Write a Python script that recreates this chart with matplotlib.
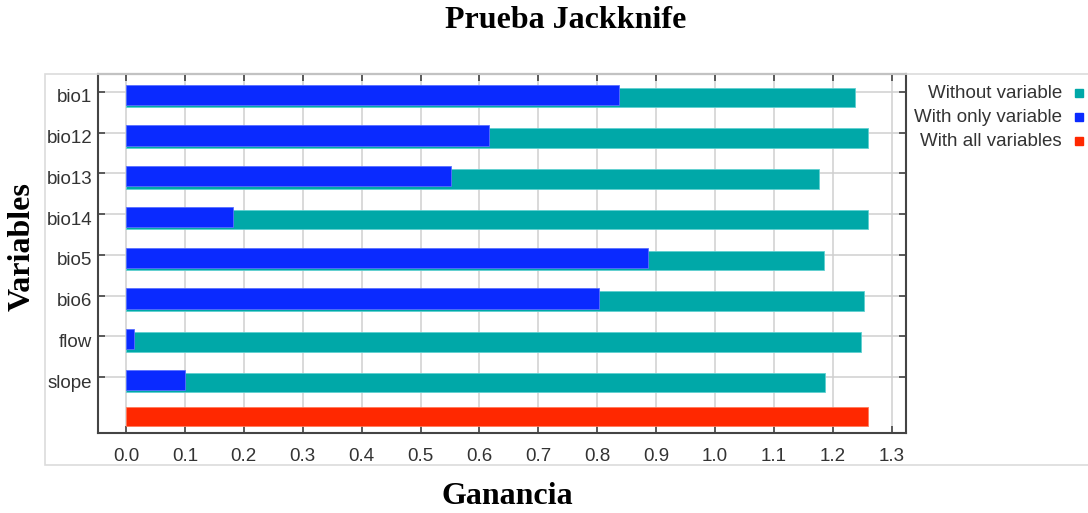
import matplotlib
matplotlib.use("Agg")
import matplotlib.pyplot as plt
import matplotlib.transforms as mtransforms
from matplotlib.patches import Rectangle

# Jackknife data
variables = ['bio1', 'bio12', 'bio13', 'bio14', 'bio5', 'bio6', 'flow', 'slope']
without_var = [1.237, 1.260, 1.176, 1.260, 1.184, 1.252, 1.247, 1.186]
only_var = [0.836, 0.616, 0.552, 0.181, 0.886, 0.803, 0.013, 0.101]
all_vars = 1.260
xticks = [0.0, 0.1, 0.2, 0.3, 0.4, 0.5, 0.6, 0.7, 0.8, 0.9, 1.0, 1.1, 1.2, 1.3]

legend_labels = ['Without variable', 'With only variable', 'With all variables']
teal = '#00A8A8'
blue = '#0A2AFF'
red = '#FF2800'
legend_colors = [teal, blue, red]

W, H = 1088, 513
fig = plt.figure(figsize=(W / 100, H / 100), dpi=100)

# light outer frame around the chart panel
fig.patches.append(Rectangle((45 / W, 1 - 465 / H), (W - 44) / W, (465 - 74) / H,
                             transform=fig.transFigure, fill=False,
                             edgecolor='#dcdcdc', linewidth=1.2))

ax = fig.add_axes([98 / W, 1 - 433 / H, (906 - 98) / W, (433 - 74) / H])

ypos = list(range(len(variables)))
ax.barh([y + 0.135 for y in ypos], without_var, height=0.48, color=teal,
        edgecolor='#5fd0d0', linewidth=0.6, zorder=3)
ax.barh([y + 0.07 for y in ypos], only_var, height=0.5, color=blue,
        edgecolor='#5a70ff', linewidth=0.6, zorder=4)
ax.barh(len(variables) - 0.04, all_vars, height=0.47, color=red,
        edgecolor='#ff7a5a', linewidth=0.6, zorder=3)

ax.set_xlim(-0.0475, 1.324)
ax.set_ylim(8.37, -0.44)
ax.set_xticks(xticks)
ax.set_xticklabels([f'{t:.1f}' for t in xticks])
ax.set_yticks(ypos)
ax.set_yticklabels(variables)

ax.grid(True, color='#cfcfcf', linewidth=1.1, zorder=0)
ax.set_axisbelow(True)
ax.tick_params(axis='both', direction='in', length=5, width=1.2, color='#444444',
               top=True, right=True, labelsize=13.5, labelcolor='#333333')
ax.tick_params(axis='x', pad=11)
ax.tick_params(axis='y', pad=4)
# y labels sit a few pixels below their ticks in the original
shift = mtransforms.ScaledTranslation(0, -4 / 100, fig.dpi_scale_trans)
for lab in ax.get_yticklabels():
    lab.set_transform(lab.get_transform() + shift)
for lab in ax.get_xticklabels() + ax.get_yticklabels():
    lab.set_family('Liberation Sans')
for s in ax.spines.values():
    s.set_color('#444444')
    s.set_linewidth(1.5)

# legend on the right: text right aligned, coloured square after it
for i, (lab, col) in enumerate(zip(legend_labels, legend_colors)):
    yc = 93 + i * 24
    fig.text(1062 / W, 1 - yc / H, lab, ha='right', va='center',
             fontsize=13.5, family='Liberation Sans', color='#333333')
    fig.patches.append(Rectangle((1075 / W, 1 - (yc + 4) / H), 8 / W, 8 / H,
                                 transform=fig.transFigure, color=col))

serif = 'Liberation Serif'
fig.text(566 / W, 1 - 21 / H, 'Prueba Jackknife', ha='center', va='center',
         fontsize=23, fontweight='bold', family=serif)
fig.text(507 / W, 1 - 496 / H, 'Ganancia', ha='center', va='center',
         fontsize=23, fontweight='bold', family=serif)
fig.text(22 / W, 1 - 247 / H, 'Variables', ha='center', va='center', rotation=90,
         fontsize=23, fontweight='bold', family=serif)

fig.savefig('out.png', dpi=100)
